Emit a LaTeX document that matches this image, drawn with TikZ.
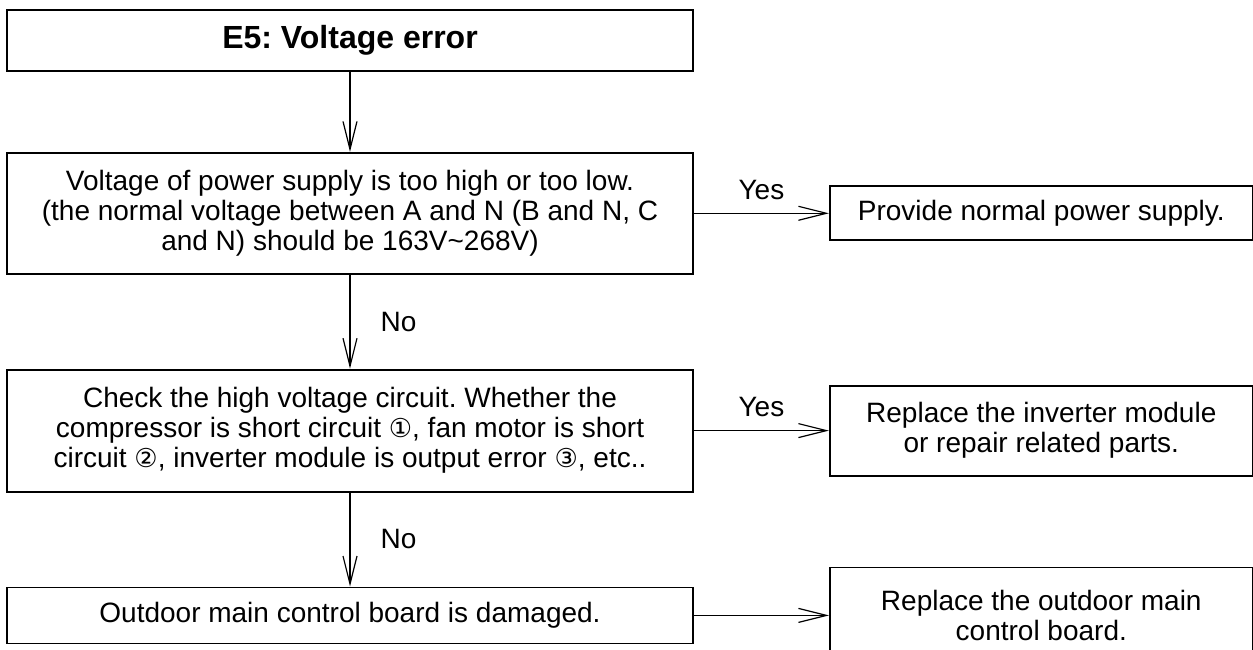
\documentclass[tikz,border=0pt]{standalone}
\usepackage{fontspec}
\setmainfont{Liberation Sans}
\newfontfamily\circfont{DejaVu Sans}
\usepackage{tikz}
\usetikzlibrary{arrows.meta, positioning}
\frenchspacing

\newcommand{\circno}[1]{{\circfont\fontsize{26}{30}\selectfont #1}}

\begin{document}
\begin{tikzpicture}[
  x=1pt, y=1pt,
  %% box styles
  box/.style={
    rectangle, draw=black, line width=1.8pt,
    inner sep=0pt, align=center,
    font=\fontsize{28}{30}\selectfont},
  leftbox/.style={box, minimum width=686pt},
  rightbox/.style={box, minimum width=423pt},
  arr/.style={-{Straight Barb[length=28pt, width=14pt]}, line width=1.2pt, black},
  lbl/.style={inner sep=0pt, font=\fontsize{28}{30}\selectfont}
]
\useasboundingbox (0,0) rectangle (1253,-650);

%% ── Title ───────────────────────────────────────────────────────────────
\node[leftbox, minimum height=61pt, font=\fontsize{32}{36}\selectfont\bfseries]
  (title) at (350,-40.5) {E5: Voltage error};

%% ── Step 1: supply voltage ──────────────────────────────────────────────
\node[leftbox, minimum height=121pt, below=80pt of title] (supply) {%
  Voltage of power supply is too high or too low.\\
  (the normal voltage between A and N (B and N, C\\
  and N) should be 163V\textasciitilde 268V)};
\node[rightbox, minimum height=54pt, right=135pt of supply] (normal) {%
  Provide normal power supply.};

%% ── Step 2: high voltage circuit ────────────────────────────────────────
\node[leftbox, minimum height=122pt, below=94pt of supply] (hvcheck) {%
  Check the high voltage circuit. Whether the\\
  compressor is short circuit \circno{①}, fan motor is short\\
  circuit \circno{②}, inverter module is output error \circno{③}, etc..};
\node[rightbox, minimum height=90pt, right=135pt of hvcheck] (inverter) {%
  Replace the inverter module\\
  or repair related parts.};

%% ── Step 3: main board ──────────────────────────────────────────────────
\node[leftbox, minimum height=56pt, below=94pt of hvcheck] (board) {%
  Outdoor main control board is damaged.};
\node[rightbox, minimum height=96pt, right=135pt of board] (replace) {%
  Replace the outdoor main\\
  control board.};

%% ──────────────────────── Arrows ─────────────────────────────────────────
\draw[arr] (title) -- (supply);
\draw[arr] (supply) -- node[lbl, above=13pt]{Yes} (normal);
\draw[arr] (supply) -- node[lbl, right=30pt]{No} (hvcheck);
\draw[arr] (hvcheck) -- node[lbl, above=13pt]{Yes} (inverter);
\draw[arr] (hvcheck) -- node[lbl, right=30pt]{No} (board);
\draw[arr] (board) -- (replace);

\end{tikzpicture}
\end{document}
